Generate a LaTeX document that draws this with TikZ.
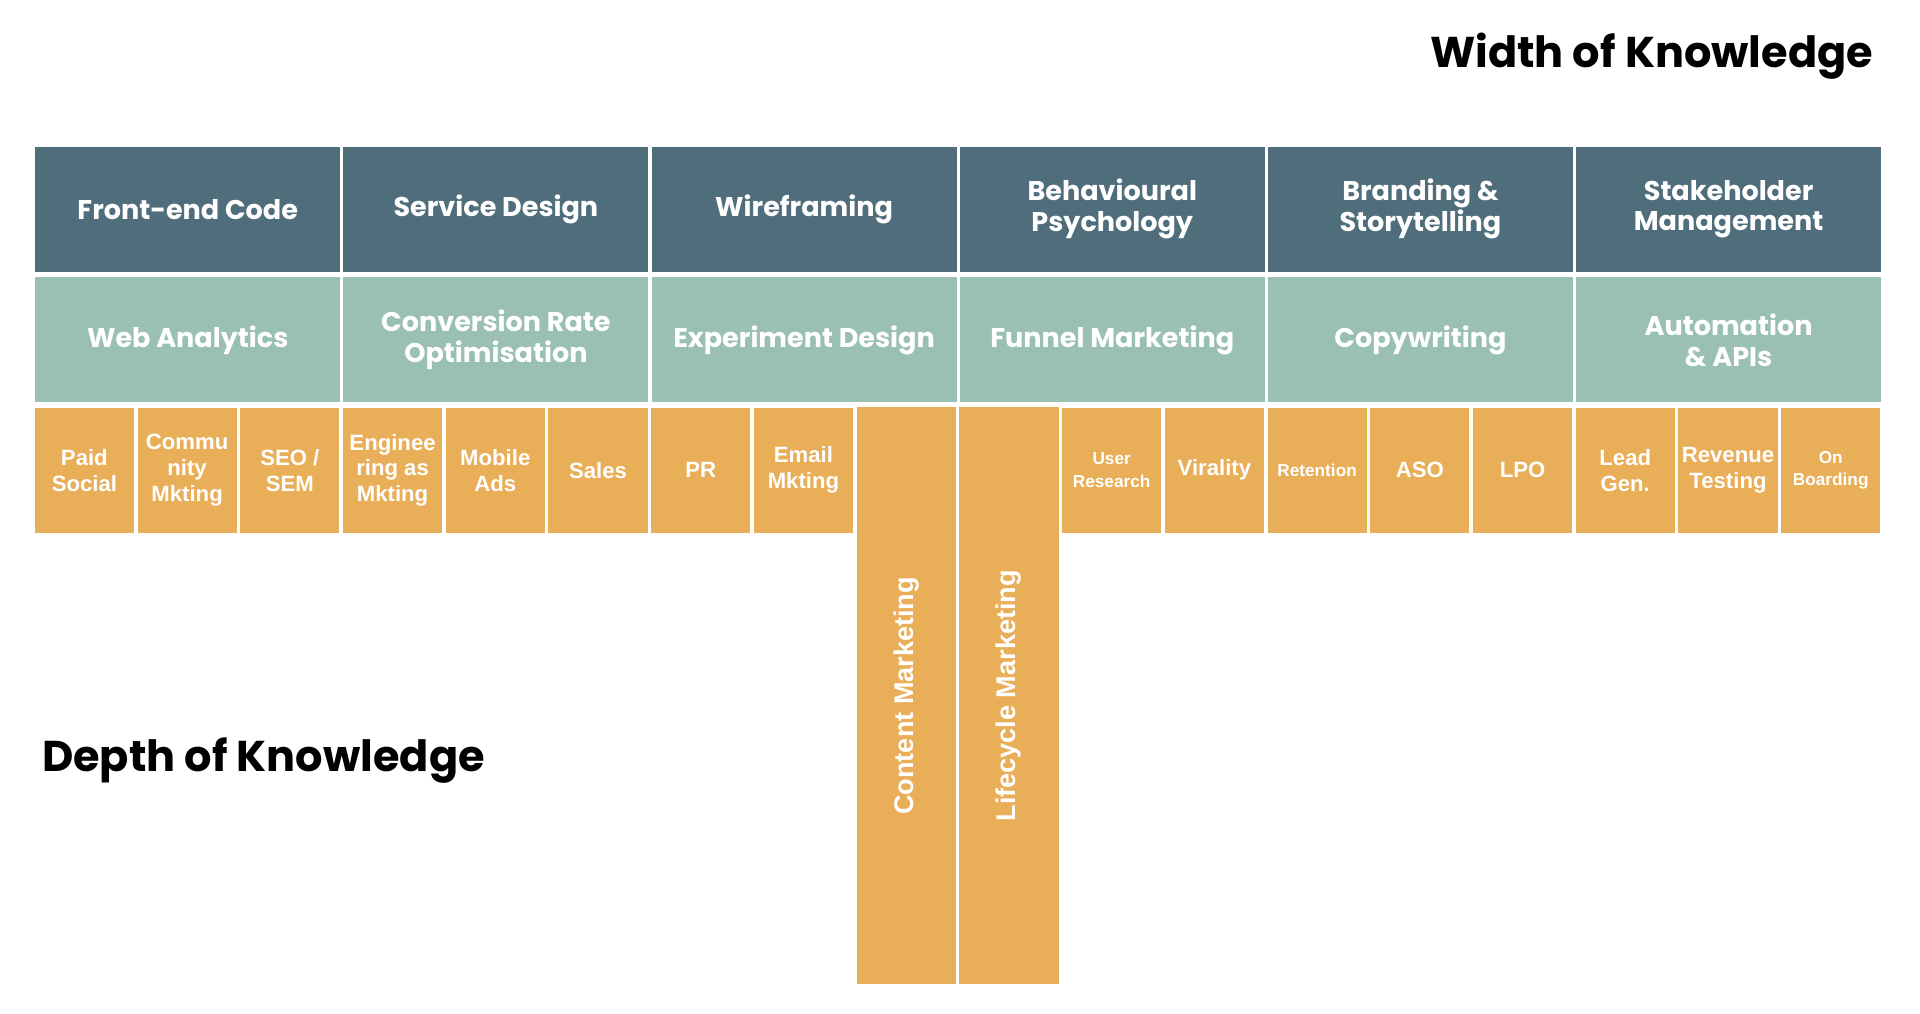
\documentclass[tikz,border=0pt]{standalone}
\usepackage{fontspec}
\setmainfont{Poppins}[BoldFont={* Bold}]
\newfontfamily\arialfont{Liberation Sans}
\usetikzlibrary{positioning}
\definecolor{pizarra}{HTML}{506D7C}
\definecolor{salvia}{HTML}{9ABFB3}
\definecolor{mostaza}{HTML}{E9AE58}
\tikzset{
    skillTop/.style={rectangle, fill=pizarra, text=white, minimum width=124pt, minimum height=50.8pt, align=center, font=\bfseries\fontsize{11}{12.5}\selectfont},
    skillMid/.style={rectangle, fill=salvia, text=white, minimum width=124pt, minimum height=50.8pt, align=center, font=\bfseries\fontsize{11}{12.5}\selectfont},
    skillLow/.style={rectangle, fill=mostaza, text=white, minimum width=40.3pt, minimum height=50.8pt, align=center, inner sep=1pt, font=\arialfont\bfseries\fontsize{9}{10.5}\selectfont},
    skillDeep/.style={rectangle, fill=mostaza, text=white, minimum width=40.3pt, minimum height=234.5pt, inner sep=0pt, font=\arialfont\bfseries\fontsize{11}{12}\selectfont},
    tiny/.style={font=\arialfont\bfseries\fontsize{7}{9}\selectfont},
    heading/.style={font=\bfseries\fontsize{17.5}{19}\selectfont, inner sep=0pt},
}
\begin{document}
\begin{tikzpicture}[x=0.497pt, y=-0.497pt]
    \useasboundingbox (0,0) rectangle (1570,829);
    % top two rows
    \foreach \i/\top/\mid in {0/Front-end Code/Web Analytics,
                              1/Service Design/Conversion Rate\\Optimisation,
                              2/Wireframing/Experiment Design,
                              3/Behavioural\\Psychology/Funnel Marketing,
                              4/Branding \&\\Storytelling/Copywriting,
                              5/Stakeholder\\Management/Automation\\\& APIs} {
        \node [skillTop] (top\i) at (153.5+252*\i, 171) {\top};
        \node [skillMid] (mid\i) at (153.5+252*\i, 278) {\mid};
    }
    % shallow skills
    \foreach \j/\txt in {0/Paid\\Social, 1/Commu\\nity\\Mkting, 2/{SEO /\\SEM},
                         3/Enginee\\ring as\\Mkting, 4/Mobile\\Ads, 5/Sales,
                         6/PR, 7/Email\\Mkting, 11/Virality, 13/ASO, 14/LPO,
                         15/Lead\\Gen., 16/Revenue\\Testing} {
        \node [skillLow] (low\j) at (69+84*\j, 384.5) {\txt};
    }
    \node [skillLow, tiny] (low10) at (69+84*10, 384.5) {User\\Research};
    \node [skillLow, tiny] (low12) at (69+84*12, 384.5) {Retention};
    \node [skillLow, tiny] (low17) at (69+84*17, 384.5) {On\\Boarding};
    % deep skills
    \node [skillDeep] (deep8) at (69+84*8, 569) {\rotatebox{90}{Content Marketing}};
    \node [skillDeep] (deep9) at (69+84*9, 569) {\rotatebox{90}{Lifecycle Marketing}};
    % axis titles
    \node [heading, anchor=east] (width) at (1532, 46) {Width of Knowledge};
    \node [heading, anchor=west] (depth) at (34, 622) {Depth of Knowledge};
\end{tikzpicture}
\end{document}
